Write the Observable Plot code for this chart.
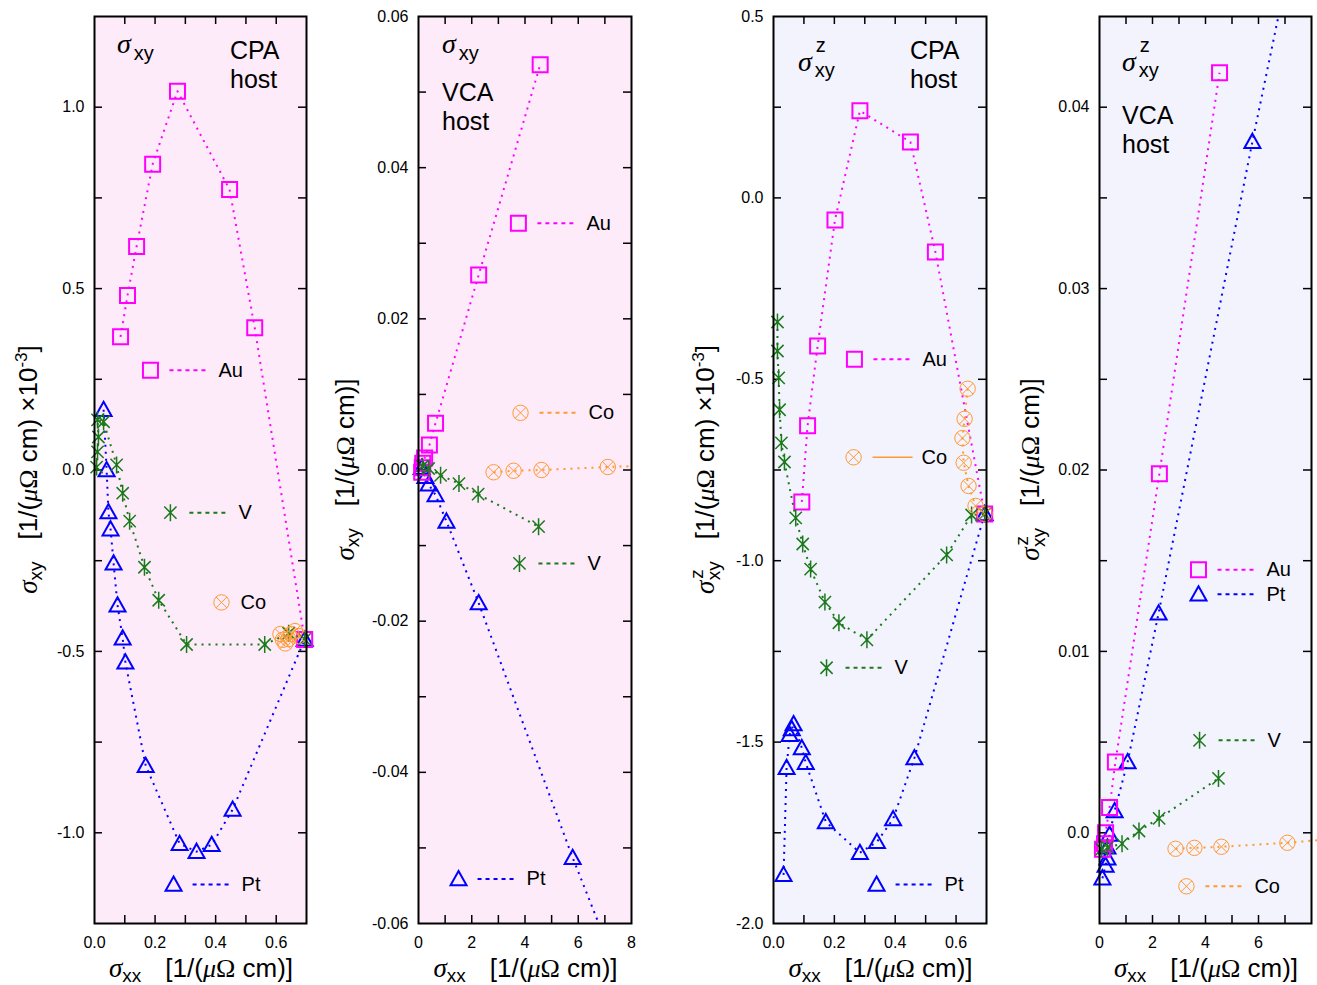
<!DOCTYPE html>
<html><head><meta charset="utf-8">
<script src="https://cdn.jsdelivr.net/npm/d3@7"></script>
<script src="https://cdn.jsdelivr.net/npm/@observablehq/plot@0.6"></script>
<style>
body{margin:0;background:#fff;}
#wrap{position:relative;width:1317px;height:985px;overflow:hidden;}
#wrap svg{position:absolute;left:0;top:0;max-width:none;}
</style></head><body><div id="wrap"></div>
<script>
// ---------------- DATA ----------------
// Panel 1: sigma_xy, CPA host (x10^-3)
const p1AuX = [0.086, 0.109, 0.139, 0.192, 0.274, 0.446, 0.529, 0.694];
const p1AuY = [0.367, 0.481, 0.616, 0.843, 1.044, 0.773, 0.392, -0.467];
const p1PtX = [0.030, 0.040, 0.046, 0.053, 0.063, 0.076, 0.093, 0.102, 0.169, 0.281, 0.337, 0.387, 0.456, 0.694];
const p1PtY = [0.166, 0.0, -0.116, -0.163, -0.257, -0.373, -0.464, -0.530, -0.815, -1.030, -1.052, -1.033, -0.936, -0.467];
const p1VX = [0.007, 0.010, 0.013, 0.010, 0.030, 0.073, 0.093, 0.116, 0.165, 0.212, 0.304, 0.562, 0.641, 0.694];
const p1VY = [0.008, 0.050, 0.091, 0.138, 0.133, 0.014, -0.064, -0.141, -0.268, -0.359, -0.481, -0.481, -0.450, -0.467];
const p1CoX = [0.614, 0.622, 0.630, 0.640, 0.650, 0.662, 0.675];
const p1CoY = [-0.452, -0.468, -0.478, -0.466, -0.452, -0.444, -0.458];

// Panel 2: sigma_xy, VCA host
const p2AuX = [0.12, 0.14, 0.16, 0.23, 0.41, 0.64, 2.26, 4.57];
const p2AuY = [-0.0003, 0.0003, 0.0009, 0.0016, 0.0033, 0.0062, 0.0258, 0.0536];
const p2PtX = [0.12, 0.26, 0.38, 0.64, 1.05, 2.26, 5.79];
const p2PtY = [0.0003, -0.0009, -0.0019, -0.0033, -0.0068, -0.0176, -0.0513];
const p2PtEdge = [6.77, -0.060];
const p2VX = [0.15, 0.38, 0.83, 1.52, 2.24, 4.51];
const p2VY = [0.0005, 0.0002, -0.0007, -0.0018, -0.0032, -0.0075];
const p2CoX = [2.82, 3.57, 4.62, 7.11];
const p2CoY = [-0.0003, -0.0001, 0.0, 0.0004];
const p2CoEdge = [8.0, 0.0005];

// Panel 3: sigma^z_xy, CPA host (x10^-3)
const p3AuX = [0.093, 0.112, 0.145, 0.202, 0.284, 0.450, 0.532, 0.694];
const p3AuY = [-0.838, -0.628, -0.408, -0.061, 0.240, 0.154, -0.149, -0.871];
const p3PtX = [0.033, 0.043, 0.053, 0.060, 0.066, 0.093, 0.106, 0.172, 0.284, 0.340, 0.393, 0.463, 0.694];
const p3PtY = [-1.866, -1.571, -1.480, -1.464, -1.450, -1.516, -1.557, -1.720, -1.805, -1.775, -1.712, -1.544, -0.871];
const p3VX = [0.013, 0.013, 0.017, 0.020, 0.026, 0.036, 0.073, 0.096, 0.122, 0.169, 0.215, 0.307, 0.569, 0.651, 0.694];
const p3VY = [-0.342, -0.422, -0.496, -0.584, -0.675, -0.728, -0.882, -0.954, -1.023, -1.114, -1.171, -1.218, -0.984, -0.874, -0.871];
const p3CoX = [0.638, 0.628, 0.621, 0.625, 0.641, 0.664, 0.694];
const p3CoY = [-0.526, -0.609, -0.662, -0.730, -0.794, -0.849, -0.871];

// Panel 4: sigma^z_xy, VCA host
const p4AuX = [0.11, 0.19, 0.23, 0.38, 0.60, 2.26, 4.53];
const p4AuY = [-0.0009, -0.0006, 0.0, 0.0014, 0.0039, 0.0198, 0.0419];
const p4PtX = [0.11, 0.23, 0.30, 0.30, 0.38, 0.57, 1.06, 2.23, 5.77];
const p4PtY = [-0.0025, -0.0018, -0.0014, -0.0008, -0.0001, 0.0012, 0.0039, 0.0121, 0.0381];
const p4PtEdge = [6.75, 0.045];
const p4VX = [0.08, 0.30, 0.85, 1.49, 2.25, 4.49];
const p4VY = [-0.0009, -0.0008, -0.0006, 0.0001, 0.0008, 0.0030];
const p4CoX = [2.87, 3.58, 4.60, 7.09];
const p4CoY = [-0.00088, -0.00083, -0.00077, -0.00055];
const p4CoEdge = [8.3, -0.0004];

// Tick values / labels
const tickX07 = [0.1, 0.2, 0.3, 0.4, 0.5, 0.6];
const labX07 = [0.0, 0.2, 0.4, 0.6];
const tickX8 = [1, 2, 3, 4, 5, 6, 7];
const labX8 = [0, 2, 4, 6, 8];
const labX8b = [0, 2, 4, 6];
const tickY1 = [-1.0, -0.75, -0.5, -0.25, 0, 0.25, 0.5, 0.75, 1.0];
const labY1 = [-1.0, -0.5, 0.0, 0.5, 1.0];
const tickY2 = [-0.05, -0.04, -0.03, -0.02, -0.01, 0, 0.01, 0.02, 0.03, 0.04, 0.05];
const labY2 = [-0.06, -0.04, -0.02, 0.0, 0.02, 0.04, 0.06];
const tickY3 = [-1.75, -1.5, -1.25, -1.0, -0.75, -0.5, -0.25, 0, 0.25];
const labY3 = [-2.0, -1.5, -1.0, -0.5, 0.0, 0.5];
const tickY4 = [0, 0.005, 0.01, 0.015, 0.02, 0.025, 0.03, 0.035, 0.04];
const labY4 = [0.0, 0.01, 0.02, 0.03, 0.04];

// ---------------- STYLE ----------------
const SANS = "'Liberation Sans', Arial, Helvetica, sans-serif";
const SERIF = "'Liberation Serif', 'Times New Roman', serif";
const MAGENTA = "#ff00ff", BLUE = "#0000ff", GREEN = "#1a7a1a", ORANGE = "#ff9933";
const PINK = "#fdebfa", LAV = "#f3f3fd";

const sqSym = {draw(c, size){ const r = Math.sqrt(size/Math.PI); c.moveTo(-r,-r); c.lineTo(r,-r); c.lineTo(r,r); c.lineTo(-r,r); c.closePath(); }};
const triSym = {draw(c, size){ const r = Math.sqrt(size/Math.PI); c.moveTo(0,-r); c.lineTo(r,0.78*r); c.lineTo(-r,0.78*r); c.closePath(); }};
const astSym = {draw(c, size){ const r = Math.sqrt(size/Math.PI); const d = r*0.72;
  c.moveTo(0,-r); c.lineTo(0,r); c.moveTo(-d,-d); c.lineTo(d,d); c.moveTo(-d,d); c.lineTo(d,-d); }};
const cxSym = {draw(c, size){ const r = Math.sqrt(size/Math.PI); const d = r*Math.SQRT1_2;
  c.moveTo(r,0); c.arc(0,0,r,0,2*Math.PI); c.moveTo(-d,-d); c.lineTo(d,d); c.moveTo(-d,d); c.lineTo(d,-d); }};

const STY = {
  Au: {symbol: sqSym, r: 7.5, sw: 2, color: MAGENTA},
  Pt: {symbol: triSym, r: 8, sw: 2, color: BLUE},
  V:  {symbol: astSym, r: 8.5, sw: 1.5, color: GREEN},
  Co: {symbol: cxSym, r: 7.7, sw: 1, color: ORANGE}
};

const f1 = d => d.toFixed(1);
const f2 = d => d.toFixed(2);
const fi = d => String(d);
const f4 = d => d === 0 ? "0.0" : d.toFixed(2);

const panels = [
  {frame: [94, 16, 306, 923], xd: [0, 0.7], yd: [-1.25, 1.25], bg: PINK,
   xt: tickX07, xl: labX07, xf: f1, yt: tickY1, yl: labY1, yf: f1,
   series: [
     {n: "Pt", xs: p1PtX, ys: p1PtY, line: true},
     {n: "Au", xs: p1AuX, ys: p1AuY, line: true},
     {n: "V", xs: p1VX, ys: p1VY, line: true},
     {n: "Co", xs: p1CoX, ys: p1CoY, line: false}],
   legend: [
     {n: "Au", fx: 0.264, fy: 0.390, line: "dash"},
     {n: "V", fx: 0.358, fy: 0.547, line: "dash"},
     {n: "Co", fx: 0.599, fy: 0.646, line: null, tdx: 19},
     {n: "Pt", fx: 0.373, fy: 0.957, line: "dash"}]},
  {frame: [418, 16, 631, 923], xd: [0, 8], yd: [-0.06, 0.06], bg: PINK,
   xt: tickX8, xl: labX8, xf: fi, yt: tickY2, yl: labY2, yf: f2,
   series: [
     {n: "Pt", xs: p2PtX, ys: p2PtY, line: true, edge: p2PtEdge},
     {n: "Au", xs: p2AuX, ys: p2AuY, line: true},
     {n: "V", xs: p2VX, ys: p2VY, line: true},
     {n: "Co", xs: p2CoX, ys: p2CoY, line: true, edge: p2CoEdge}],
   legend: [
     {n: "Au", fx: 0.469, fy: 0.228, line: "dash"},
     {n: "Co", fx: 0.479, fy: 0.437, line: "dash"},
     {n: "V", fx: 0.474, fy: 0.603, line: "dash"},
     {n: "Pt", fx: 0.188, fy: 0.951, line: "dash"}]},
  {frame: [773, 16, 986, 923], xd: [0, 0.7], yd: [-2.0, 0.5], bg: LAV,
   xt: tickX07, xl: labX07, xf: f1, yt: tickY3, yl: labY3, yf: f1,
   series: [
     {n: "Pt", xs: p3PtX, ys: p3PtY, line: true},
     {n: "Au", xs: p3AuX, ys: p3AuY, line: true},
     {n: "V", xs: p3VX, ys: p3VY, line: true},
     {n: "Co", xs: p3CoX, ys: p3CoY, line: true}],
   legend: [
     {n: "Au", fx: 0.380, fy: 0.378, line: "dash"},
     {n: "Co", fx: 0.376, fy: 0.486, line: "solid"},
     {n: "V", fx: 0.249, fy: 0.718, line: "dash"},
     {n: "Pt", fx: 0.484, fy: 0.957, line: "dash"}]},
  {frame: [1099, 16, 1311, 923], xd: [0, 8], yd: [-0.005, 0.045], bg: LAV,
   xt: tickX8, xl: labX8b, xf: fi, yt: tickY4, yl: labY4, yf: f4,
   series: [
     {n: "Pt", xs: p4PtX, ys: p4PtY, line: true, edge: p4PtEdge},
     {n: "Au", xs: p4AuX, ys: p4AuY, line: true},
     {n: "V", xs: p4VX, ys: p4VY, line: true},
     {n: "Co", xs: p4CoX, ys: p4CoY, line: true, edge: p4CoEdge, noclip: true}],
   legend: [
     {n: "Au", fx: 0.467, fy: 0.610, line: "dash"},
     {n: "Pt", fx: 0.467, fy: 0.637, line: "dash"},
     {n: "V", fx: 0.472, fy: 0.798, line: "dash"},
     {n: "Co", fx: 0.410, fy: 0.959, line: "dash"}]}
];

function rich(svg, x, y, rotate, anchor, parts) {
  const t = d3.select(svg).append("text")
    .attr("transform", `translate(${x},${y}) rotate(${rotate})`)
    .attr("text-anchor", anchor).attr("fill", "black");
  for (const p of parts) {
    const s = t.append("tspan").text(p.t)
      .attr("font-family", p.serif ? SERIF : SANS)
      .attr("font-size", p.size)
      .attr("font-style", p.it ? "italic" : "normal");
    if (p.dx) s.attr("dx", p.dx);
    if (p.dy) s.attr("dy", p.dy);
  }
}

const wrap = document.getElementById("wrap");
panels.forEach((P, pi) => {
  const [L, T, R, B] = P.frame;
  const fw = R - L, fh = B - T;
  const [x0, x1] = P.xd, [y0, y1] = P.yd;
  const sx = (x1 - x0) / fw, sy = (y1 - y0) / fh;
  const TL = 8;
  const marks = [
    Plot.frame({fill: P.bg, stroke: null}),
    Plot.ruleX(P.xt, {x: d => d, y1: y0, y2: y0 + TL * sy, stroke: "black", strokeWidth: 1.5}),
    Plot.ruleX(P.xt, {x: d => d, y1: y1, y2: y1 - TL * sy, stroke: "black", strokeWidth: 1.5}),
    Plot.ruleY(P.yt, {y: d => d, x1: x0, x2: x0 + TL * sx, stroke: "black", strokeWidth: 1.5}),
    Plot.ruleY(P.yt, {y: d => d, x1: x1, x2: x1 - TL * sx, stroke: "black", strokeWidth: 1.5})
  ];
  for (const s of P.series) {
    const st = STY[s.n];
    const pts = s.xs.map((x, i) => ({x, y: s.ys[i]}));
    if (s.line) {
      const lp = s.edge ? pts.concat([{x: s.edge[0], y: s.edge[1]}]) : pts;
      marks.push(Plot.line(lp, {x: "x", y: "y", stroke: st.color, strokeWidth: 2,
        strokeDasharray: "2,5", strokeLinecap: "butt", clip: !s.noclip}));
    }
    marks.push(Plot.dot(pts, {x: "x", y: "y", symbol: st.symbol, r: st.r, stroke: st.color,
      strokeWidth: st.sw, fill: "none"}));
  }
  for (const e of P.legend) {
    const st = STY[e.n];
    const d = [{x: x0 + e.fx * (x1 - x0), y: y1 - e.fy * (y1 - y0), n: e.n}];
    marks.push(Plot.dot(d, {x: "x", y: "y", symbol: st.symbol, r: st.r, stroke: st.color,
      strokeWidth: st.sw, fill: "none"}));
    if (e.line) {
      const lo = {x1: q => q.x + 19 * sx, x2: q => q.x + 59 * sx, y1: "y", y2: "y",
        stroke: st.color, strokeWidth: e.line === "solid" ? 1.5 : 2, strokeLinecap: "butt"};
      if (e.line === "dash") lo.strokeDasharray = "4,4";
      marks.push(Plot.link(d, lo));
    }
    marks.push(Plot.text(d, {x: "x", y: "y", text: "n", dx: e.tdx ?? 68, textAnchor: "start",
      fontSize: 20, fill: "black"}));
  }
  marks.push(Plot.axisX({ticks: P.xl, tickFormat: P.xf, tickSize: 0, tickPadding: 13, label: null}));
  marks.push(Plot.axisY({ticks: P.yl, tickFormat: P.yf, tickSize: 0, tickPadding: 10, label: null}));
  marks.push(Plot.frame({stroke: "black", strokeWidth: 2, fill: "none"}));

  const svg = Plot.plot({
    width: 1317, height: 985,
    marginLeft: L, marginRight: 1317 - R, marginTop: T, marginBottom: 985 - B,
    x: {domain: P.xd}, y: {domain: P.yd},
    style: {background: "transparent", fontSize: "16px", fontFamily: SANS, color: "black"},
    marks
  });
  wrap.appendChild(svg);

  // x-axis title
  rich(svg, (L + R) / 2 + 1, 977, 0, "middle", [
    {t: "\u03c3", size: 27, serif: true, it: true},
    {t: "xx", size: 19, dy: 5},
    {t: "[1/(", size: 26, dx: 24, dy: -5},
    {t: "\u03bc", size: 26, serif: true, it: true},
    {t: "\u03a9", size: 26, serif: true},
    {t: " cm)]", size: 26}
  ]);

  const cy = (T + B) / 2;
  const isZ = pi >= 2;
  const isMilli = pi === 0 || pi === 2;
  const ylX = [37, 354, 714, 1039][pi];
  const sig = isZ
    ? [{t: "\u03c3", size: 27, serif: true, it: true},
       {t: "z", size: 19, dx: 2, dy: -11},
       {t: "xy", size: 19, dx: -11, dy: 17}]
    : [{t: "\u03c3", size: 27, serif: true, it: true},
       {t: "xy", size: 19, dy: 5}];
  const tail = isMilli
    ? [{t: "[1/(", size: 26, dx: 22, dy: isZ ? -6 : -5},
       {t: "\u03bc", size: 26, serif: true, it: true},
       {t: "\u03a9", size: 26, serif: true},
       {t: " cm) \u00d710", size: 26},
       {t: "-3", size: 17, dy: -10},
       {t: "]", size: 26, dy: 10}]
    : [{t: "[1/(", size: 26, dx: 22, dy: isZ ? -6 : -5},
       {t: "\u03bc", size: 26, serif: true, it: true},
       {t: "\u03a9", size: 26, serif: true},
       {t: " cm)]", size: 26}];
  rich(svg, ylX, cy, -90, "middle", sig.concat(tail));

  // panel annotations
  if (pi === 0 || pi === 1) {
    const ax = pi === 0 ? 117 : 442;
    rich(svg, ax, 53, 0, "start", [
      {t: "\u03c3", size: 28, serif: true, it: true},
      {t: "xy", size: 20, dx: 3, dy: 7}
    ]);
  } else {
    const ax = pi === 2 ? 798 : 1122;
    rich(svg, ax, 71, 0, "start", [
      {t: "\u03c3", size: 28, serif: true, it: true},
      {t: "z", size: 20, dx: 4, dy: -19},
      {t: "xy", size: 20, dx: -11, dy: 25}
    ]);
  }
  if (pi === 0 || pi === 2) {
    const ax = pi === 0 ? 230 : 910;
    rich(svg, ax, 59, 0, "start", [{t: "CPA", size: 25}]);
    rich(svg, ax, 88, 0, "start", [{t: "host", size: 25}]);
  } else {
    const ax = pi === 1 ? 442 : 1122;
    const by = pi === 1 ? 101 : 124;
    rich(svg, ax, by, 0, "start", [{t: "VCA", size: 25}]);
    rich(svg, ax, by + 29, 0, "start", [{t: "host", size: 25}]);
  }
});
</script></body></html>
